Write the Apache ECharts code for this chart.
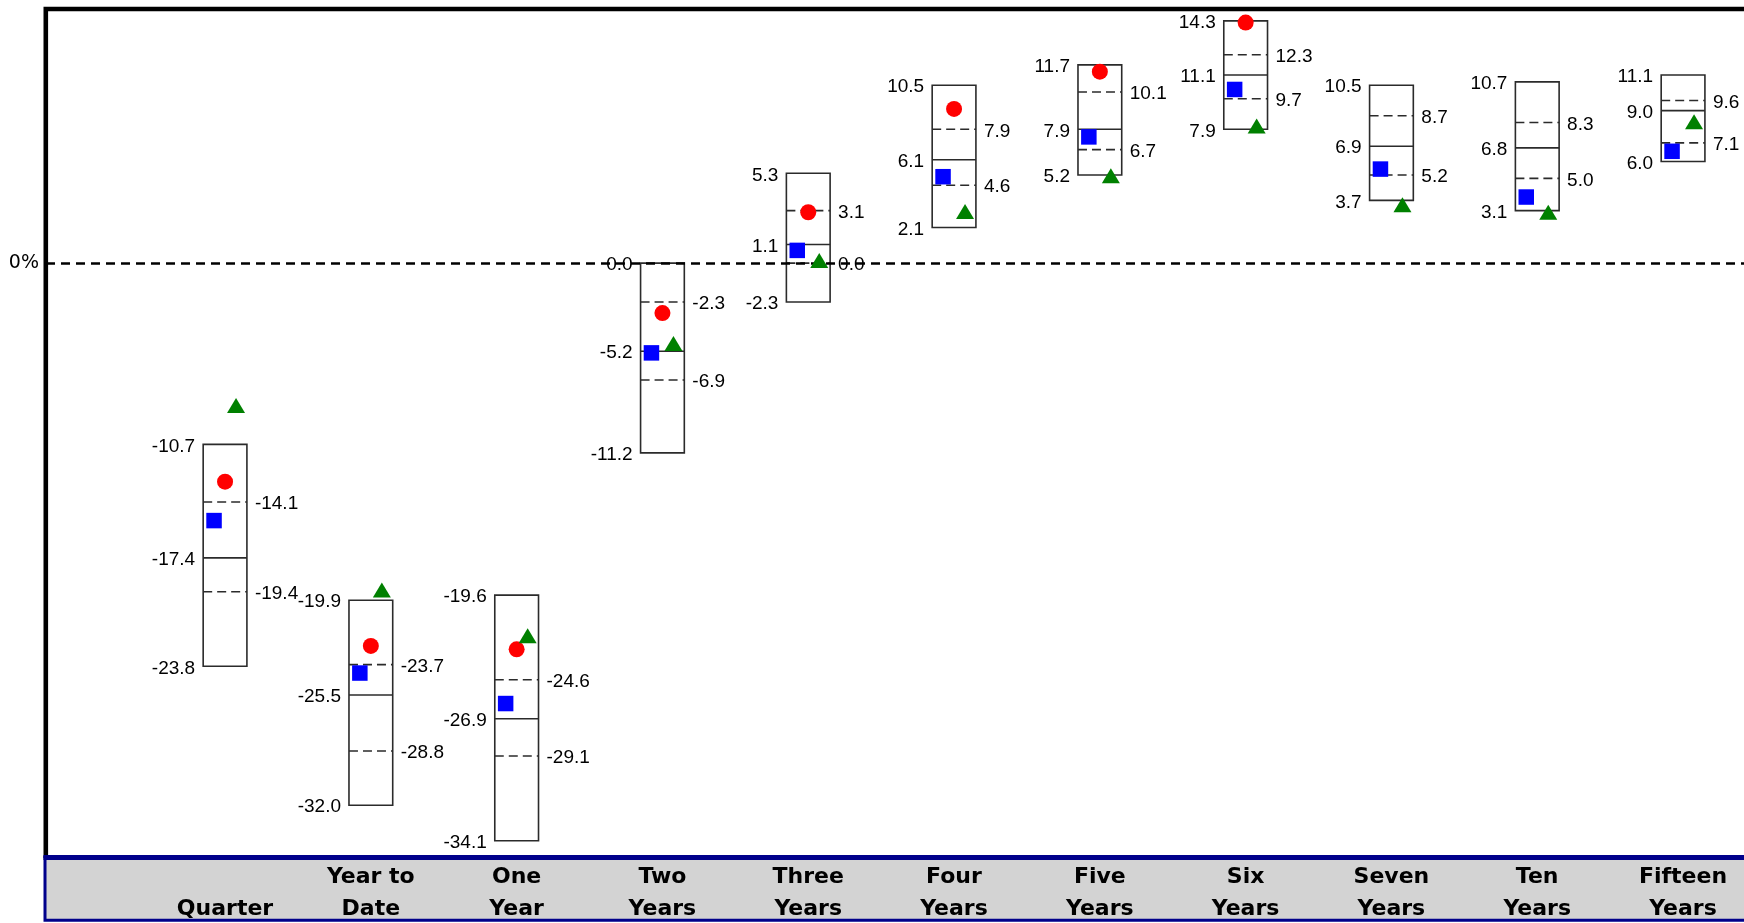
<!DOCTYPE html>
<html>
<head>
<meta charset="utf-8">
<script src="https://cdn.jsdelivr.net/npm/echarts@6/dist/echarts.min.js"></script>
<style>
html,body{margin:0;padding:0;background:#fff;}
#chart{width:1744px;height:923px;}
</style>
</head>
<body>
<div id="chart"></div>
<script>
const categories = ['Quarter','Year to\nDate','One\nYear','Two\nYears','Three\nYears','Four\nYears','Five\nYears','Six\nYears','Seven\nYears','Ten\nYears','Fifteen\nYears'];
const boxMax    = [-10.7,-19.9,-19.6, 0.0, 5.3,10.5,11.7,14.3,10.5,10.7,11.1];
const boxUpperQ = [-14.1,-23.7,-24.6,-2.3, 3.1, 7.9,10.1,12.3, 8.7, 8.3, 9.6];
const boxMedian = [-17.4,-25.5,-26.9,-5.2, 1.1, 6.1, 7.9,11.1, 6.9, 6.8, 9.0];
const boxLowerQ = [-19.4,-28.8,-29.1,-6.9, 0.0, 4.6, 6.7, 9.7, 5.2, 5.0, 7.1];
const boxMin    = [-23.8,-32.0,-34.1,-11.2,-2.3, 2.1, 5.2, 7.9, 3.7, 3.1, 6.0];
const circleValues   = [-12.9,-22.6,-22.8,-2.95,3.0,9.1,11.3,14.2,null,null,null];
const squareValues   = [-15.2,-24.2,-26.0,-5.3,0.75,5.1,7.45,10.25,5.55,3.9,6.6];
const triangleValues = [-8.4,-19.3,-22.0,-4.75,0.15,3.05,5.15,8.1,3.45,3.0,8.35];
const yTickLabels = {0: '0%'};

const boxData = categories.map((c, i) => [i, boxMax[i], boxUpperQ[i], boxMedian[i], boxLowerQ[i], boxMin[i]]);
const toPts = arr => arr.map((v, i) => v == null ? [i, null] : [i, v]);

const numFont = '19px "Liberation Sans", Arial, sans-serif';
const boxColor = '#2b2b2b';

function renderBox(params, api) {
  const i = api.value(0);
  const vals = [api.value(1), api.value(2), api.value(3), api.value(4), api.value(5)];
  const pts = vals.map(v => api.coord([i, v]));
  const cx = pts[0][0];
  const hw = api.size([1, 0])[0] * 0.15;
  const x0 = cx - hw, x1 = cx + hw;
  const yTop = pts[0][1], yBot = pts[4][1];
  const ch = [];
  ch.push({type: 'rect', shape: {x: x0, y: yTop, width: x1 - x0, height: yBot - yTop},
    style: {fill: 'none', stroke: boxColor, lineWidth: 1.6}});
  ch.push({type: 'line', shape: {x1: x0, y1: pts[2][1], x2: x1, y2: pts[2][1]},
    style: {stroke: boxColor, lineWidth: 1.6}});
  [1, 3].forEach(k => {
    ch.push({type: 'line', shape: {x1: x0, y1: pts[k][1], x2: x1, y2: pts[k][1]},
      style: {stroke: boxColor, lineWidth: 1.6, lineDash: [9, 5]}});
  });
  [0, 2, 4].forEach(k => {
    ch.push({type: 'text', style: {text: vals[k].toFixed(1), x: x0 - 8, y: pts[k][1] + 2,
      align: 'right', verticalAlign: 'middle', font: numFont, fill: '#000'}});
  });
  [1, 3].forEach(k => {
    ch.push({type: 'text', style: {text: vals[k].toFixed(1), x: x1 + 8, y: pts[k][1] + 2,
      align: 'left', verticalAlign: 'middle', font: numFont, fill: '#000'}});
  });
  return {type: 'group', children: ch};
}

const chart = echarts.init(document.getElementById('chart'), null, {renderer: 'canvas'});
chart.setOption({
  animation: false,
  backgroundColor: '#fff',
  grid: [
    {left: 46, top: 9, right: 0, height: 847, show: false},
    {left: 225, top: 855, width: 1458, height: 1}
  ],
  xAxis: [
    {type: 'value', gridIndex: 0, min: -1.228, max: 10.418, show: false},
    {type: 'category', gridIndex: 1, data: categories, boundaryGap: false, z: 200,
      axisLine: {show: false}, axisTick: {show: false}, splitLine: {show: false},
      axisLabel: {interval: 0, margin: 70, verticalAlign: 'bottom', color: '#000',
        fontFamily: '"DejaVu Sans", Verdana, sans-serif', fontWeight: 'bold', fontSize: 22, lineHeight: 32}}
  ],
  yAxis: [
    {type: 'value', gridIndex: 0, min: -35, max: 15, interval: 5,
      axisLine: {show: false}, axisTick: {show: false}, splitLine: {show: false},
      axisLabel: {margin: 7, color: '#000', fontFamily: '"DejaVu Sans", sans-serif', fontSize: 19,
        formatter: v => yTickLabels[v] || ''}},
    {type: 'value', gridIndex: 1, show: false}
  ],
  graphic: [
    {type: 'polyline', z: 90, shape: {points: [[45.8, 858], [45.8, 9], [1800, 9]]},
      style: {fill: 'none', stroke: '#000', lineWidth: 4.6}},
    {type: 'rect', z: 100, shape: {x: 45, y: 857.5, width: 1760, height: 62.8},
      style: {fill: '#d3d3d3', stroke: '#00008b', lineWidth: 3}},
    {type: 'line', z: 101, shape: {x1: 43.5, y1: 857.5, x2: 1800, y2: 857.5},
      style: {stroke: '#00008b', lineWidth: 5}}
  ],
  series: [
    {type: 'custom', xAxisIndex: 0, yAxisIndex: 0, renderItem: renderBox, data: boxData, z: 2,
      markLine: {silent: true, symbol: ['none', 'none'], label: {show: false},
        lineStyle: {color: '#000', type: [9, 6], width: 2.5}, data: [{yAxis: 0}]}},
    {type: 'scatter', name: 'circle', data: toPts(circleValues), symbol: 'circle', symbolSize: 16,
      itemStyle: {color: '#ff0000', opacity: 1}, z: 5},
    {type: 'scatter', name: 'square', data: toPts(squareValues), symbol: 'rect', symbolSize: 15.5,
      symbolOffset: [-11, 0], itemStyle: {color: '#0000ff', opacity: 1}, z: 5},
    {type: 'scatter', name: 'triangle', data: toPts(triangleValues), symbol: 'triangle', symbolSize: [18, 15],
      symbolOffset: [11, 0], itemStyle: {color: '#008000', opacity: 1}, z: 5}
  ]
});
</script>
</body>
</html>
